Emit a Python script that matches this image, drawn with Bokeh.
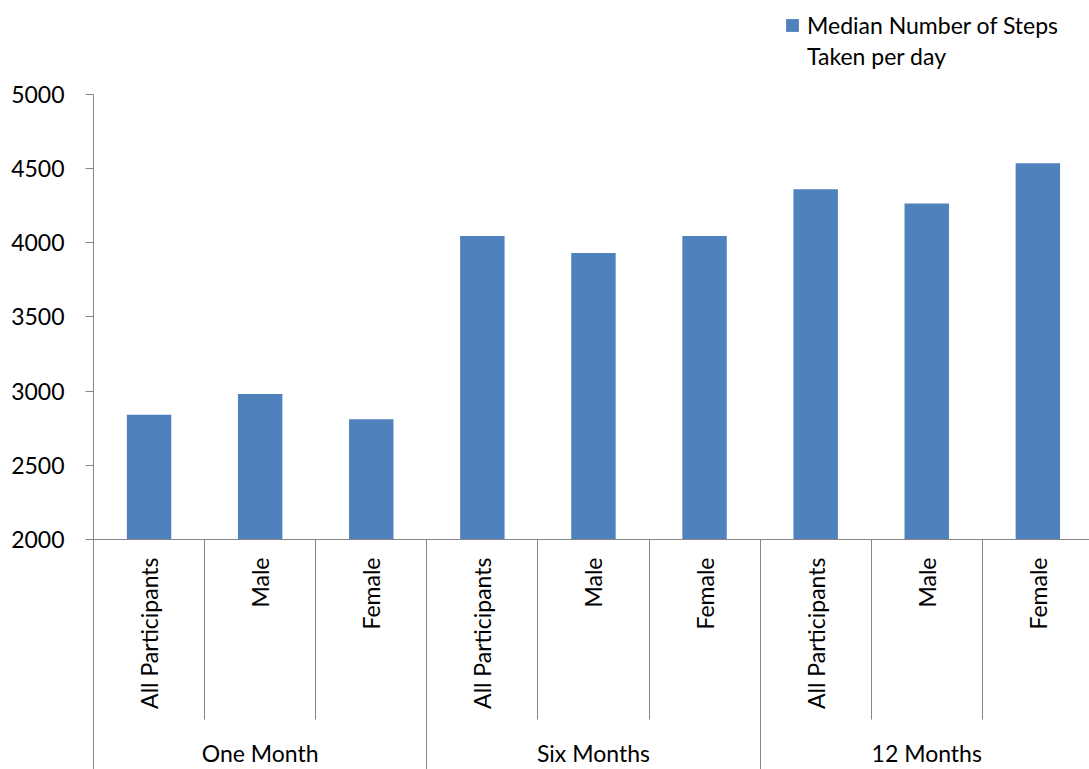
import math
from bokeh.plotting import figure
from bokeh.models import (FixedTicker, LinearAxis, Range1d, Legend, LegendItem,
                          ColumnDataSource)
from bokeh.embed import file_html
from bokeh.resources import INLINE

# Median steps per day, by follow-up period and participant group
periods = ["One Month", "Six Months", "12 Months"]
groups = ["All Participants", "Male", "Female"]
steps_one_month = [2840, 2980, 2810]
steps_six_months = [4045, 3930, 4045]
steps_twelve_months = [4360, 4265, 4535]
y_ticks = [2000, 2500, 3000, 3500, 4000, 4500, 5000]
series_name = ["Median Number of Steps", "Taken per day"]

BAR_BLUE = "#4F81BD"
AXIS_GREY = "#868686"
FONT = "Lato"
FONT_SIZE = "23px"

values = steps_one_month + steps_six_months + steps_twelve_months
n = len(values)
centers = [i + 0.5 for i in range(n)]
source = ColumnDataSource(dict(x=centers, top=values))

W, H = 1089, 769
LEFT, BOTTOM = 93, 229
AXIS_TOP = 94                     # where the value axis ends, px from the top
frame_w = W - LEFT
frame_h = H - BOTTOM
# the plotting area runs to the top of the page so the legend can sit there;
# the value axis itself only spans the tick range
px_per_unit = (frame_h - AXIS_TOP) / (y_ticks[-1] - y_ticks[0])
y_end = y_ticks[0] + frame_h / px_per_unit
# category slot is ~111px wide; the last slot runs slightly past the page edge
slot_px = 111.1
x_end = frame_w / slot_px

p = figure(width=W, height=H, output_backend="svg", toolbar_location=None,
           x_range=Range1d(0, x_end), y_range=Range1d(y_ticks[0], y_end),
           x_axis_type=None, min_border_left=LEFT, min_border_top=0,
           min_border_bottom=BOTTOM, min_border_right=0)
p.outline_line_color = None
p.xgrid.visible = False
p.ygrid.visible = False
p.background_fill_color = "white"
p.border_fill_color = "white"

bars = p.vbar(x="x", top="top", bottom=y_ticks[0], width=0.4, source=source,
              fill_color=BAR_BLUE, line_color=None)

# value axis
yax = p.yaxis[0]
yax.ticker = FixedTicker(ticks=y_ticks)
yax.bounds = (y_ticks[0], y_ticks[-1])
yax.axis_line_color = AXIS_GREY
yax.major_tick_line_color = AXIS_GREY
yax.major_tick_out = 8
yax.major_tick_in = 0
yax.minor_tick_line_color = None
yax.major_label_standoff = 21
yax.major_label_text_font = FONT
yax.major_label_text_font_size = FONT_SIZE
yax.major_label_text_color = "black"

# inner category axis: rotated group labels, separators between every bar.
# The separators reach 180px down; the labels sit 18px below the axis line.
SEP_IN = 180
inner = LinearAxis(ticker=FixedTicker(ticks=centers, minor_ticks=list(range(n + 1))))
inner.major_label_overrides = {c: groups[i % len(groups)] for i, c in enumerate(centers)}
inner.major_label_orientation = math.pi / 2
inner.major_label_standoff = 18 - SEP_IN
inner.major_label_text_font = FONT
inner.major_label_text_font_size = FONT_SIZE
inner.major_label_text_color = "black"
inner.axis_line_color = AXIS_GREY
inner.major_tick_line_color = None
inner.major_tick_in = 0
inner.major_tick_out = 0
inner.minor_tick_line_color = AXIS_GREY
inner.minor_tick_in = 0
inner.minor_tick_out = SEP_IN
p.add_layout(inner, "below")

# outer category axis: period labels, separators between periods
k = len(groups)
period_centers = [j * k + k / 2 for j in range(len(periods))]
SEP_OUT = 62
outer = LinearAxis(ticker=FixedTicker(ticks=period_centers,
                                      minor_ticks=[j * k for j in range(len(periods) + 1)]))
outer.major_label_overrides = {c: periods[j] for j, c in enumerate(period_centers)}
outer.major_label_standoff = 27 - SEP_OUT
outer.major_label_text_font = FONT
outer.major_label_text_font_size = FONT_SIZE
outer.major_label_text_color = "black"
outer.axis_line_color = None
outer.major_tick_line_color = None
outer.major_tick_in = 0
outer.major_tick_out = 0
outer.minor_tick_line_color = AXIS_GREY
outer.minor_tick_in = 25
outer.minor_tick_out = SEP_OUT
p.add_layout(outer, "below")

# legend at the top right; the series name wraps onto a second, glyph-less row
ROW_H = 31
LEGEND_TOP = 10
legend_bottom = LEGEND_TOP + 2 * ROW_H
legend = Legend(items=[LegendItem(label=series_name[0], renderers=[bars]),
                       LegendItem(label=series_name[1], renderers=[])],
                location=(784 - LEFT, frame_h - legend_bottom),
                orientation="vertical",
                glyph_width=16, glyph_height=16, label_standoff=7,
                label_height=ROW_H, label_text_baseline="middle",
                label_text_font=FONT, label_text_font_size=FONT_SIZE,
                label_text_color="black", padding=0, margin=0, spacing=0,
                border_line_color=None, background_fill_alpha=0)
p.add_layout(legend, "center")

open("out.html", "w").write(file_html(p, INLINE))
